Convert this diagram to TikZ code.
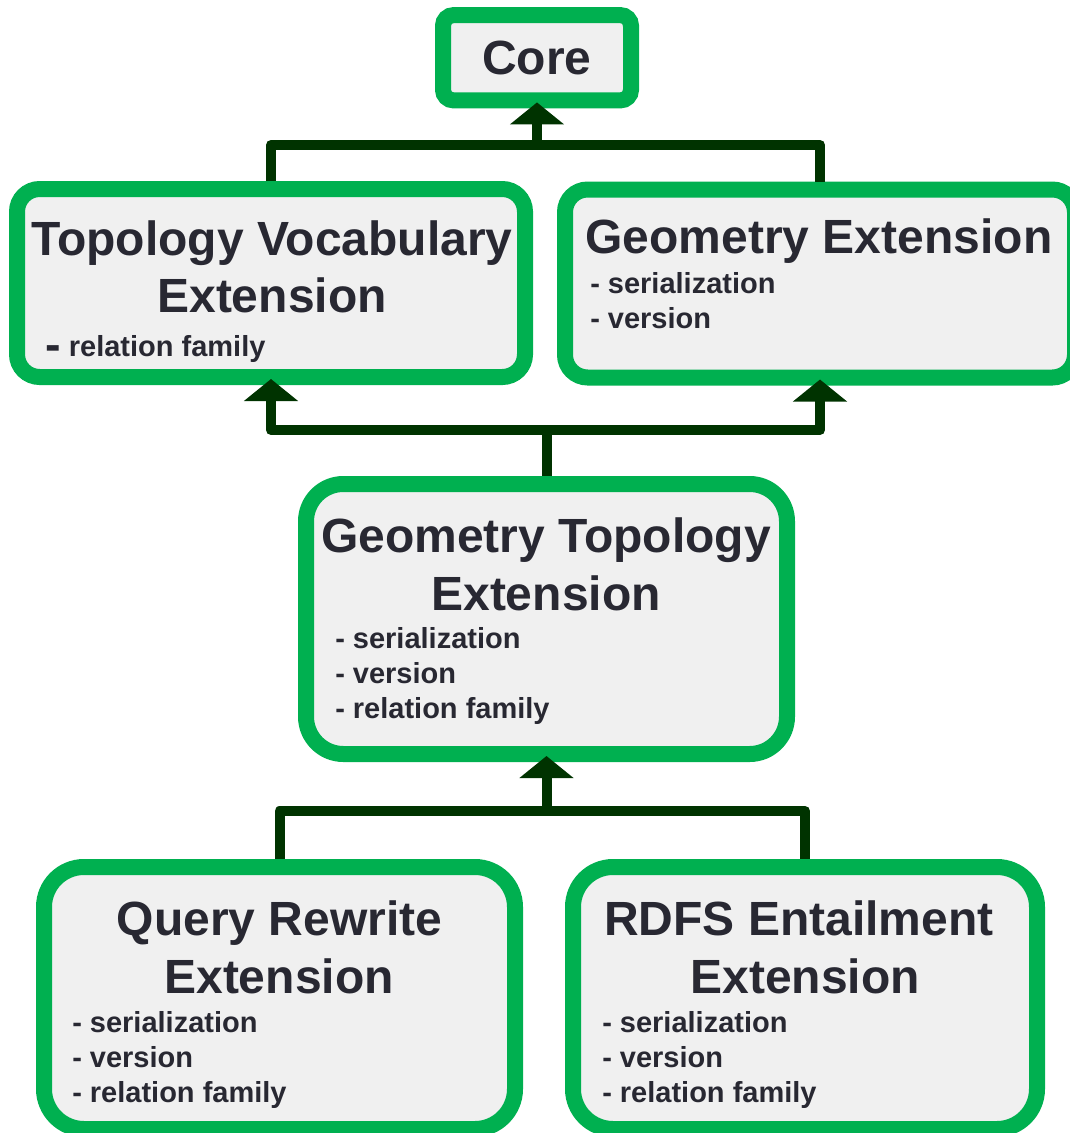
\documentclass[tikz,border=0pt]{standalone}
\usepackage{fontspec}
\setmainfont{Liberation Sans}
\usetikzlibrary{arrows.meta}
\definecolor{boxgreen}{RGB}{0,176,80}
\definecolor{boxfill}{RGB}{240,240,240}
\definecolor{linkgreen}{RGB}{0,51,0}
\definecolor{txt}{RGB}{40,40,50}
\tikzset{
  box/.style={draw=boxgreen, fill=boxfill, line width=12pt, rectangle, inner sep=0pt},
  conn/.style={draw=linkgreen, line width=7.5pt, line join=round},
  uptip/.style={-{Triangle[width=39.75pt,length=16.5pt]}, shorten >=-4.5pt},
  bothtip/.style={{Triangle[width=39.75pt,length=16.5pt]}-{Triangle[width=39.75pt,length=16.5pt]}, shorten >=-4.5pt, shorten <=-4.5pt},
  ttl/.style={text=txt, font=\bfseries\fontsize{36pt}{42pt}\selectfont, anchor=base, inner sep=0pt},
  itm/.style={text=txt, font=\bfseries\fontsize{21.75pt}{26.25pt}\selectfont, anchor=base west, inner sep=0pt},
}
\begin{document}
\begin{tikzpicture}[x=0.75pt,y=-0.75pt]
\useasboundingbox (0,0) rectangle (1070,1133);
% boxes
\node[box, rounded corners=8pt, minimum width=141pt, minimum height=64pt] (core) at (537,57.75) {};
\node[box, rounded corners=17pt, minimum width=381pt, minimum height=141pt] (tve) at (271,283) {};
\node[box, rounded corners=17pt, minimum width=382.5pt, minimum height=141pt] (ge) at (820,283.5) {};
\node[box, rounded corners=28pt, minimum width=360.75pt, minimum height=202.5pt] (gte) at (546.5,619) {};
\node[box, rounded corners=30pt, minimum width=353.25pt, minimum height=196.5pt] (qre) at (279.5,998) {};
\node[box, rounded corners=30pt, minimum width=348pt, minimum height=196.5pt] (rdfs) at (805,998) {};
% connectors
\coordinate (j1) at (537,145);
\coordinate (j2) at (546.5,430);
\coordinate (j3) at (546.5,811);
\draw[conn] (tve.north) |- (j1) -| (ge.north);
\draw[conn,uptip] (j1) -- (core.south);
\draw[conn,bothtip] (tve.south) |- (j2) -| (ge.south);
\draw[conn] (gte.north) -- (j2);
\draw[conn] (qre.north) |- (j3) -| (rdfs.north);
\draw[conn,uptip] (j3) -- (gte.south);
% texts
\node[ttl] (coreT) at (537,74) {Core};
\node[ttl] (tveT1) at (272,255) {Topology Vocabulary};
\node[ttl] (tveT2) at (272,312) {Extension};
\node[itm] (tveI1) at (45,356) {\raisebox{-3pt}{\fontsize{35pt}{35pt}\selectfont -} relation family};
\node[ttl] (geT1) at (819,253) {Geometry Extension};
\node[itm] (geI1) at (590,293) {- serialization};
\node[itm] (geI2) at (590,328) {- version};
\node[ttl] (gteT1) at (546,552) {Geometry Topology};
\node[ttl] (gteT2) at (546,610) {Extension};
\node[itm] (gteI1) at (335,648) {- serialization};
\node[itm] (gteI2) at (335,683) {- version};
\node[itm] (gteI3) at (335,718) {- relation family};
\node[ttl] (qreT1) at (279.5,935) {Query Rewrite};
\node[ttl] (qreT2) at (279,993) {Extension};
\node[itm] (qreI1) at (72,1032) {- serialization};
\node[itm] (qreI2) at (72,1067) {- version};
\node[itm] (qreI3) at (72,1102) {- relation family};
\node[ttl] (rdfsT1) at (799,935) {RDFS Entailment};
\node[ttl] (rdfsT2) at (805,993) {Extension};
\node[itm] (rdfsI1) at (602,1032) {- serialization};
\node[itm] (rdfsI2) at (602,1067) {- version};
\node[itm] (rdfsI3) at (602,1102) {- relation family};
\end{tikzpicture}
\end{document}
